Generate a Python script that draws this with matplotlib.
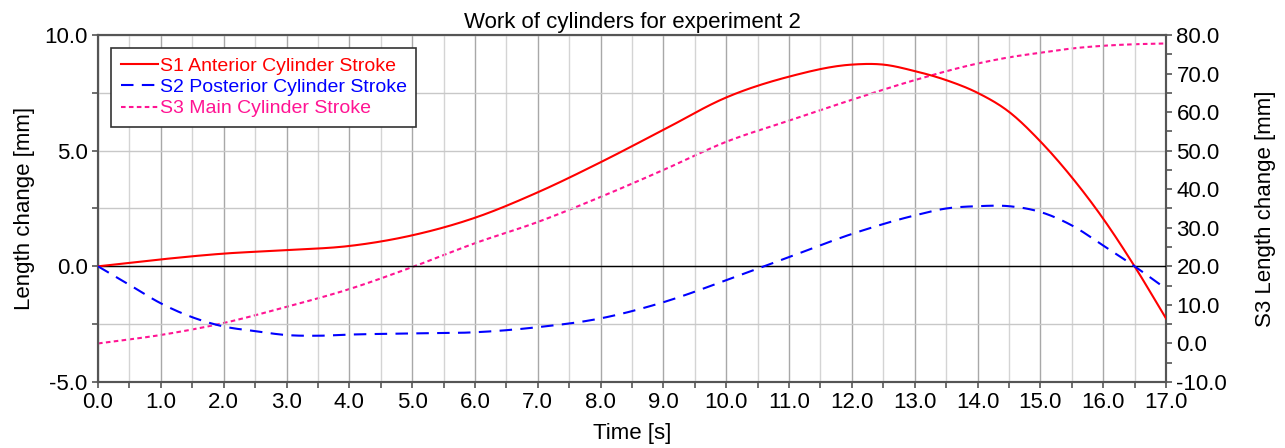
import numpy as np
import matplotlib
matplotlib.use('Agg')
import matplotlib.pyplot as plt
from matplotlib.ticker import MultipleLocator, FormatStrFormatter

plt.rcParams['font.family'] = ['Liberation Sans', 'DejaVu Sans']

# Values
t_s1 = [0, 1, 2, 3, 4, 5, 6, 7, 8, 9, 10, 11, 12, 12.5, 13, 13.5, 14, 14.5, 15, 15.5, 16, 16.5, 17]
s1 = [0, 0.3, 0.55, 0.7, 0.88, 1.34, 2.1, 3.2, 4.5, 5.9, 7.3, 8.2, 8.72, 8.72, 8.44, 8.05, 7.5, 6.68, 5.4, 3.85, 2.06, 0.0, -2.25]

t_s2 = [0, 0.5, 1, 1.5, 2, 2.5, 3, 3.5, 4, 5, 6, 7, 8, 9, 10, 10.6, 11, 12, 13, 13.5, 14, 14.5, 15, 15.5, 16, 16.5, 17]
s2 = [0, -0.8, -1.6, -2.2, -2.6, -2.8, -2.97, -3.0, -2.95, -2.9, -2.85, -2.63, -2.25, -1.55, -0.6, 0.0, 0.4, 1.4, 2.2, 2.5, 2.6, 2.6, 2.35, 1.77, 0.9, 0.0, -0.97]

t_s3 = [0, 1, 2, 3, 4, 5, 6, 7, 8, 9, 10, 11, 12, 13, 14, 14.5, 15, 15.5, 16, 16.5, 17]
s3 = [0, 2.2, 5.3, 9.5, 14.1, 19.8, 26.0, 31.5, 38.0, 45.0, 52.3, 57.8, 63.2, 68.3, 72.6, 74.2, 75.4, 76.5, 77.2, 77.6, 77.8]

labels = ['S1 Anterior Cylinder Stroke', 'S2 Posterior Cylinder Stroke', 'S3 Main Cylinder Stroke']
colors = ['#ff0000', '#0000ff', '#ff1493']


def smooth(x, y, n=400):
    # cubic hermite through the read points
    x = np.asarray(x, float)
    y = np.asarray(y, float)
    xs = np.linspace(x[0], x[-1], n)
    m = np.gradient(y, x)
    k = np.clip(np.searchsorted(x, xs, side='right') - 1, 0, len(x) - 2)
    h = x[k + 1] - x[k]
    s = (xs - x[k]) / h
    h00 = 2 * s**3 - 3 * s**2 + 1
    h10 = s**3 - 2 * s**2 + s
    h01 = -2 * s**3 + 3 * s**2
    h11 = s**3 - s**2
    ys = h00 * y[k] + h10 * h * m[k] + h01 * y[k + 1] + h11 * h * m[k + 1]
    return xs, ys


fig = plt.figure(figsize=(12.85, 4.48), dpi=100)
ax = fig.add_axes([0.0763, 0.1473, 0.8311, 0.7746])
ax2 = ax.twinx()

x1, y1 = smooth(t_s1, s1)
x2, y2 = smooth(t_s2, s2)
x3, y3 = smooth(t_s3, s3)

l1, = ax.plot(x1, y1, color=colors[0], lw=1.5, label=labels[0], zorder=5)
l2, = ax.plot(x2, y2, color=colors[1], lw=1.5, dashes=(6, 4), label=labels[1], zorder=5)
l3, = ax2.plot(x3, y3, color=colors[2], lw=1.5, dashes=(2.2, 1.6), label=labels[2], zorder=5)

ax.axhline(0, color='black', lw=1, zorder=3)

ax.set_xlim(0, 17)
ax.set_ylim(-5, 10)
ax2.set_ylim(-10, 80)

ax.xaxis.set_major_locator(MultipleLocator(1))
ax.xaxis.set_minor_locator(MultipleLocator(0.5))
ax.yaxis.set_major_locator(MultipleLocator(5))
ax.yaxis.set_minor_locator(MultipleLocator(2.5))
ax2.yaxis.set_major_locator(MultipleLocator(10))
ax2.yaxis.set_minor_locator(MultipleLocator(5))
ax.xaxis.set_major_formatter(FormatStrFormatter('%.1f'))
ax.yaxis.set_major_formatter(FormatStrFormatter('%.1f'))
ax2.yaxis.set_major_formatter(FormatStrFormatter('%.1f'))

ax.grid(True, which='major', axis='x', color='#a8a8a8', lw=1)
ax.grid(True, which='minor', axis='x', color='#d4d4d4', lw=1)
ax.grid(True, which='both', axis='y', color='#c8c8c8', lw=1)
ax.set_axisbelow(True)

for a in (ax, ax2):
    a.tick_params(which='both', direction='out', colors='#555555', labelcolor='black',
                  labelsize=16, width=1.2, length=4, pad=3.5)
    for sp in a.spines.values():
        sp.set_color('#555555')
        sp.set_linewidth(1.5)

ax.set_xlabel('Time [s]', fontsize=16, labelpad=7)
ax.set_ylabel('Length change [mm]', fontsize=16, labelpad=7)
ax2.set_ylabel('S3 Length change [mm]', fontsize=16, labelpad=20)
ax.set_title('Work of cylinders for experiment 2', fontsize=16, pad=5)

leg = ax.legend(handles=[l1, l2, l3], loc='upper left', bbox_to_anchor=(0.0122, 0.963),
                fontsize=14, fancybox=False, edgecolor='#333333', framealpha=1,
                handlelength=1.9, handletextpad=0.1, borderpad=0.5, labelspacing=0.18,
                borderaxespad=0)
leg.get_frame().set_linewidth(1.2)
leg.set_zorder(10)
for txt, c in zip(leg.get_texts(), colors):
    txt.set_color(c)
ax.set_zorder(ax2.get_zorder() + 1)
ax.patch.set_visible(False)

fig.savefig('out.png', dpi=100)
